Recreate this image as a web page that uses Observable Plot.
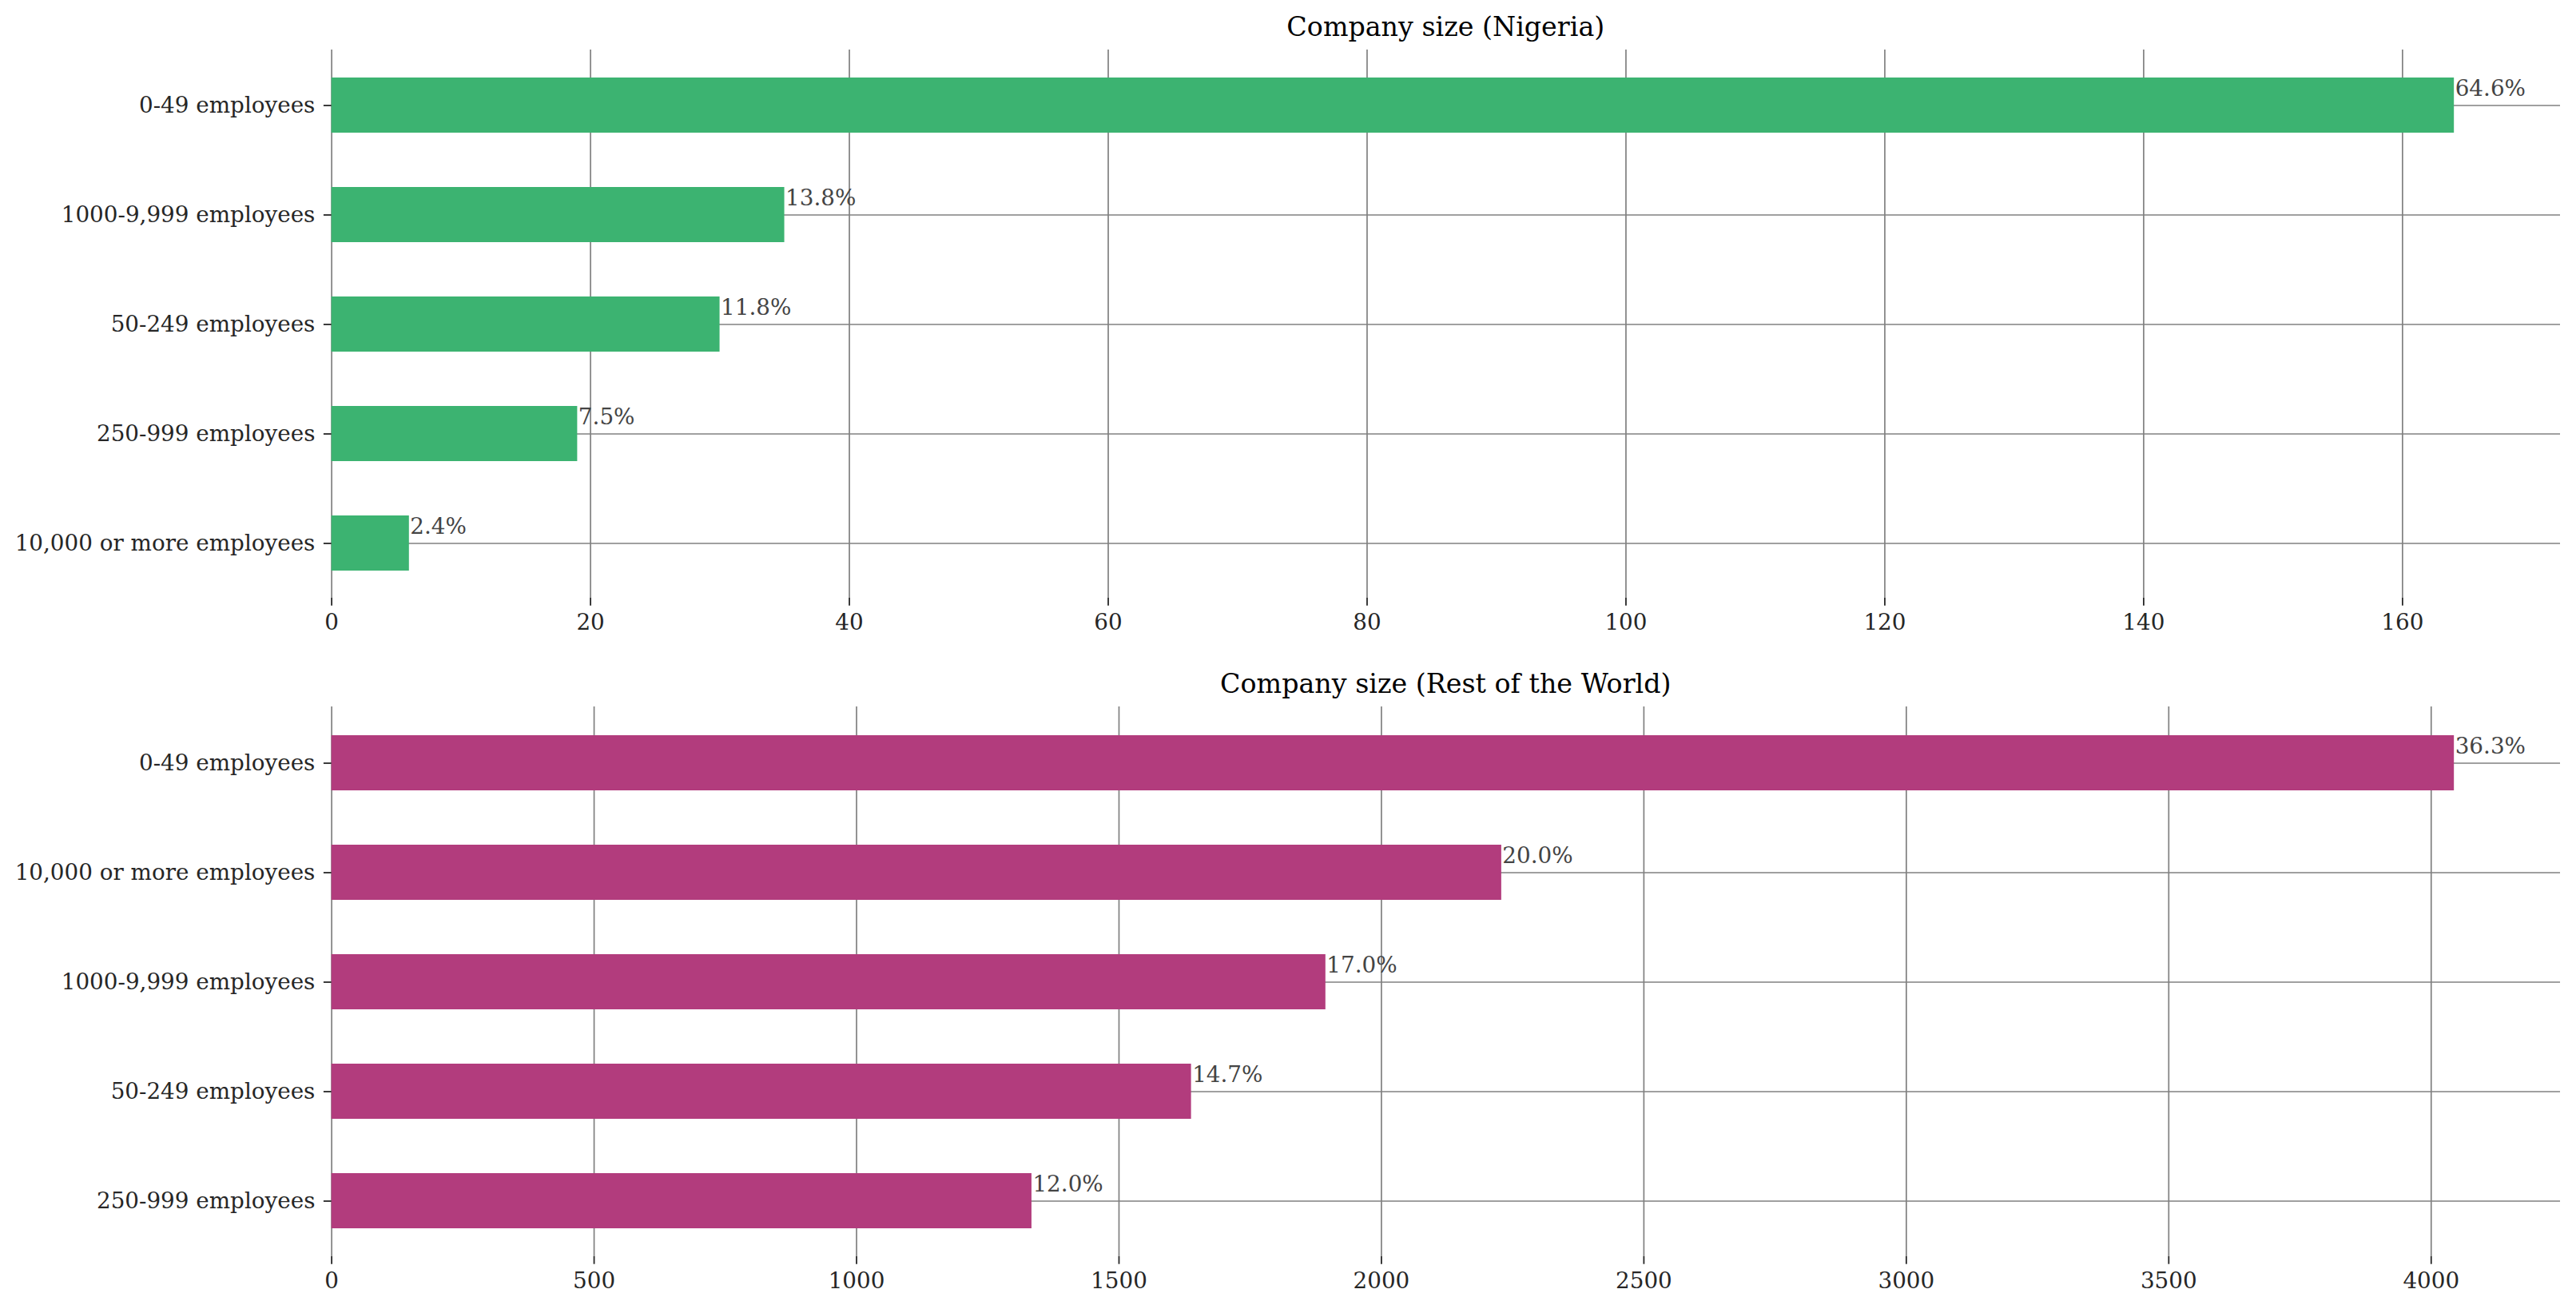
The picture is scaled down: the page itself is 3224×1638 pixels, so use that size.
<!DOCTYPE html>
<html>
<head>
<meta charset="utf-8">
<script src="https://cdn.jsdelivr.net/npm/d3@7"></script>
<script src="https://cdn.jsdelivr.net/npm/@observablehq/plot@0.6"></script>
<style>
  html, body { margin: 0; padding: 0; background: #fff; }
  body { width: 3224px; height: 1638px; overflow: hidden; font-family: "DejaVu Serif", serif; }
  .title {
    box-sizing: border-box; height: 62px; padding-top: 15px;
    font-size: 33.3px; line-height: 38.8px; color: #000;
    padding-left: 414.6px; padding-right: 20px; text-align: center;
    font-family: "DejaVu Serif", serif; white-space: nowrap;
  }
  svg { display: block; }
</style>
</head>
<body>
<div id="chart"></div>
<script>
// --- data ---
const nigeriaCategories = ["0-49 employees", "1000-9,999 employees", "50-249 employees", "250-999 employees", "10,000 or more employees"];
const nigeriaCounts = [164, 35, 30, 19, 6];
const nigeriaPercents = [64.6, 13.8, 11.8, 7.5, 2.4];
const nigeriaTicks = [0, 20, 40, 60, 80, 100, 120, 140, 160];

const worldCategories = ["0-49 employees", "10,000 or more employees", "1000-9,999 employees", "50-249 employees", "250-999 employees"];
const worldCounts = [4044, 2229, 1894, 1638, 1334];
const worldPercents = [36.3, 20.0, 17.0, 14.7, 12.0];
const worldTicks = [0, 500, 1000, 1500, 2000, 2500, 3000, 3500, 4000];

const W = 3224;
const FONT = 27.8;

function panel({title, cats, counts, pcts, ticks, color, frameH, marginBottom}) {
  const data = cats.map((c, i) => ({cat: c, value: counts[i], pct: pcts[i].toFixed(1) + "%"}));
  const xmax = d3.max(counts) * 1.05;
  const t = document.createElement("div");
  t.className = "title";
  t.textContent = title;
  const svg = Plot.plot({
    width: W,
    height: frameH + marginBottom,
    marginTop: 0,
    marginBottom,
    marginLeft: 414.6,
    marginRight: 20,
    style: {fontFamily: "DejaVu Serif", fontSize: FONT + "px", color: "#262626", background: "#fff"},
    x: {domain: [0, xmax]},
    y: {domain: cats, paddingInner: 0.5, paddingOuter: 0.25},
    marks: [
      Plot.gridX({ticks, stroke: "#808080", strokeOpacity: 1, strokeWidth: 1.7}),
      Plot.gridY({stroke: "#808080", strokeOpacity: 1, strokeWidth: 1.7}),
      Plot.barX(data, {x: "value", y: "cat", fill: color}),
      Plot.axisX({ticks, tickSize: 9.7, tickPadding: 10, fontSize: FONT, stroke: "#262626", strokeWidth: 1.8, fill: "#262626", label: null, tickFormat: d => String(d)}),
      Plot.axisY({tickSize: 9.7, tickPadding: 11, fontSize: FONT, stroke: "#262626", strokeWidth: 1.8, fill: "#262626", label: null}),
      Plot.text(data, {x: "value", y: "cat", text: "pct", textAnchor: "start", lineAnchor: "bottom", dy: -12, dx: 1, fontSize: FONT, fill: "#444"})
    ]
  });
  const root = document.getElementById("chart");
  root.appendChild(t);
  root.appendChild(svg);
}

panel({title: "Company size (Nigeria)", cats: nigeriaCategories, counts: nigeriaCounts, pcts: nigeriaPercents, ticks: nigeriaTicks, color: "#3cb371", frameH: 686, marginBottom: 74});
panel({title: "Company size (Rest of the World)", cats: worldCategories, counts: worldCounts, pcts: worldPercents, ticks: worldTicks, color: "#b23c7d", frameH: 688, marginBottom: 66});
</script>
</body>
</html>
